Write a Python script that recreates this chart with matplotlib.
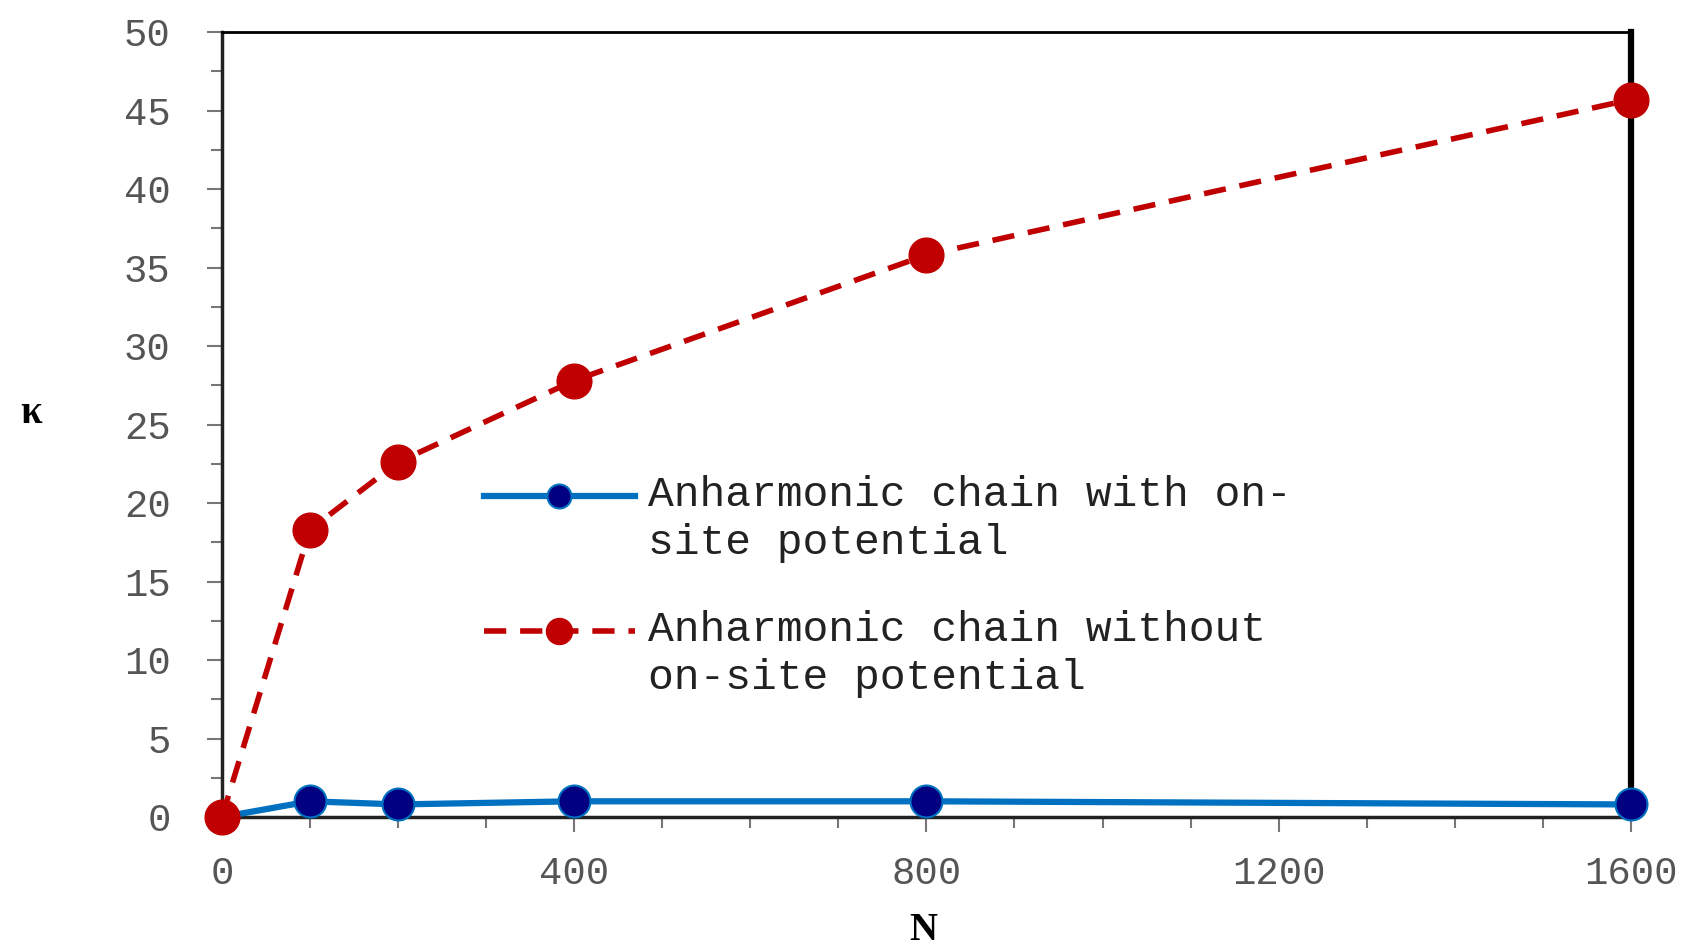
import matplotlib.pyplot as plt
from matplotlib.ticker import MultipleLocator
from matplotlib.legend_handler import HandlerLine2D

# data
n_vals = [0, 100, 200, 400, 800, 1600]
kappa_onsite = [0.0, 1.0, 0.8, 1.0, 1.0, 0.8]
kappa_free = [0.0, 18.3, 22.6, 27.8, 35.8, 45.7]
labels = ['Anharmonic chain with on-\nsite potential',
          'Anharmonic chain without\non-site potential']

mono = 'Liberation Mono'


# put the legend handle level with the first text line, not the middle
class TopLineHandler(HandlerLine2D):
    def create_artists(self, legend, orig_handle, xdescent, ydescent,
                       width, height, fontsize, trans):
        return super().create_artists(legend, orig_handle, xdescent,
                                      ydescent - 34, width, height,
                                      fontsize, trans)


fig = plt.figure(figsize=(16.98, 9.5), dpi=100)
ax = fig.add_axes([0.1307, 0.14, 0.8298, 0.8263])

l1, = ax.plot(n_vals, kappa_onsite, color='#0070C0', lw=4.5, marker='o', ms=23,
              mfc='#000080', mec='#0070C0', mew=1.5, label=labels[0],
              clip_on=False, zorder=4)
l2, = ax.plot(n_vals, kappa_free, color='#C00000', lw=4, ls=(0, (4, 2.5)),
              marker='o', ms=25, mfc='#C00000', mec='#C00000', label=labels[1],
              clip_on=False, zorder=5)

ax.set_xlim(0, 1600)
ax.set_ylim(0, 50)
ax.xaxis.set_major_locator(MultipleLocator(400))
ax.xaxis.set_minor_locator(MultipleLocator(100))
ax.yaxis.set_major_locator(MultipleLocator(5))
ax.yaxis.set_minor_locator(MultipleLocator(2.5))

ax.tick_params(which='major', length=11, width=1.5, color='#777777',
               labelsize=28, labelcolor='#555555')
ax.tick_params(which='minor', length=8, width=1.5, color='#777777')
ax.tick_params(axis='x', which='major', pad=17)
ax.tick_params(axis='y', which='major', pad=26)
for lab in ax.get_xticklabels() + ax.get_yticklabels():
    lab.set_family(mono)

ax.spines['left'].set_linewidth(2.5)
ax.spines['left'].set_color('#222222')
ax.spines['bottom'].set_linewidth(2.5)
ax.spines['bottom'].set_color('#222222')
ax.spines['top'].set_linewidth(2)
ax.spines['right'].set_linewidth(4.5)

fig.text(0.018, 0.565, 'κ', fontsize=28, fontweight='bold',
         family='Liberation Serif', ha='center', va='center')
fig.text(0.5435, 0.02, 'N', fontsize=28, fontweight='bold',
         family='Liberation Serif', ha='center', va='center')

leg = ax.legend(handles=[l1, l2], loc='upper left',
                bbox_to_anchor=(0.285, 0.5), bbox_transform=fig.transFigure,
                frameon=False, prop={'family': mono, 'size': 31},
                handlelength=3.5, handletextpad=0.3, borderpad=0,
                borderaxespad=0, labelspacing=1.1, markerscale=0.75,
                handler_map={l1: TopLineHandler(), l2: TopLineHandler()})
for t in leg.get_texts():
    t.set_linespacing(1.25)
    t.set_color('#222222')

fig.savefig('out.png', dpi=100)
